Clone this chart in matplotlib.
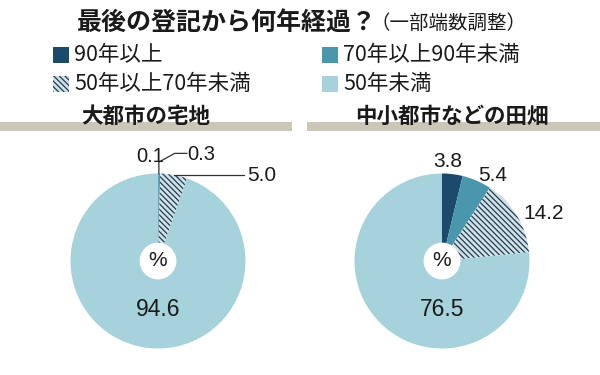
import matplotlib
matplotlib.use("Agg")
import matplotlib.pyplot as plt
from matplotlib.patches import Rectangle, Circle

plt.rcParams['font.family'] = ['Noto Sans CJK JP', 'DejaVu Sans']
plt.rcParams['hatch.linewidth'] = 0.9

# data
title = "最後の登記から何年経過？"
subtitle = "（一部端数調整）"
categories = ["90年以上", "70年以上90年未満", "50年以上70年未満", "50年未満"]
panel_titles = ["大都市の宅地", "中小都市などの田畑"]
city_values = [0.1, 0.3, 5.0, 94.6]
rural_values = [3.8, 5.4, 14.2, 76.5]

# style
colors = ['#1b4a6c', '#4a97ad', '#cde2e9', '#a5d2db']
hatches = [None, None, '\\\\\\\\\\\\', None]
hatch_color = '#2a3b4c'
band_color = '#cbc6b8'
num_font = ['Liberation Sans Narrow', 'Liberation Sans', 'DejaVu Sans']
txt = '#1a1a1a'

W, H = 600, 375


def fx(px):
    return px / W


def fy(py):
    return 1 - py / H


fig = plt.figure(figsize=(6, 3.75), dpi=100)
fig.patch.set_facecolor('white')

# title
fig.text(fx(377), fy(23), title, ha='right', va='center',
         fontsize=18, fontweight='bold', color=txt)
fig.text(fx(370), fy(23), subtitle, ha='left', va='center',
         fontsize=14, color=txt)

# legend
leg_pos = [(53, 55), (322, 55), (53, 84), (322, 84)]
for (lx, ly), cat, col, hat in zip(leg_pos, categories, colors, hatches):
    sq = Rectangle((fx(lx), fy(ly + 8)), 16 / W, 16 / H,
                   transform=fig.transFigure, facecolor=col,
                   edgecolor=hatch_color if hat else col,
                   linewidth=0, hatch=hat)
    fig.add_artist(sq)
    fig.text(fx(lx + 21), fy(ly), cat, ha='left', va='center',
             fontsize=15.5, color=txt)

# section headers with gray band
for (x0, x1), cx, name in zip([(0, 292), (307, 600)], [146, 452], panel_titles):
    fig.add_artist(Rectangle((fx(x0), fy(131)), (x1 - x0) / W, 9 / H,
                             transform=fig.transFigure, facecolor=band_color,
                             edgecolor='none'))
    fig.text(fx(cx), fy(116), name, ha='center', va='center',
             fontsize=15.5, fontweight='bold', color=txt)


def draw_pie(cx, cy, r, values):
    ax = fig.add_axes([fx(cx - r), fy(cy + r), 2 * r / W, 2 * r / H])
    wedges, _ = ax.pie(values, colors=colors, startangle=90,
                       counterclock=False, radius=1,
                       wedgeprops=dict(linewidth=0))
    for w, hat in zip(wedges, hatches):
        if hat:
            w.set_hatch(hat)
            w.set_edgecolor(hatch_color)
            w.set_linewidth(0)
    ax.add_patch(Circle((0, 0), 0.21, facecolor='white', edgecolor='none'))
    ax.text(0, 0, "%", ha='center', va='center', fontsize=15,
            family=num_font, color=txt)
    ax.text(0, -0.56, f"{values[-1]:.1f}", ha='center', va='center',
            fontsize=16.5, family=num_font, color=txt)
    ax.set_xlim(-1, 1)
    ax.set_ylim(-1, 1)
    ax.axis('off')
    return ax, wedges


# left pie
axl, wl = draw_pie(158, 261, 87.5, city_values)
lc = '#333333'
axl.plot([0.01, 0.01, 0.19, 0.33], [1.0, 1.13, 1.23, 1.23],
         color=lc, lw=0.9, clip_on=False)
axl.text(0.07, 1.13, f"{city_values[0]:.1f}", ha='right', va='baseline',
         fontsize=14.5, family=num_font, color=txt)
axl.text(0.34, 1.22, f"{city_values[1]:.1f}", ha='left', va='center',
         fontsize=14.5, family=num_font, color=txt)
axl.plot([0.18, 0.98], [0.985, 0.985], color=lc, lw=0.9, clip_on=False)
axl.text(1.02, 0.975, f"{city_values[2]:.1f}", ha='left', va='center',
         fontsize=15, family=num_font, color=txt)

# right pie
axr, wr = draw_pie(442, 261, 87.5, rural_values)
right_label_pos = [(0.06, 1.14), (0.58, 0.98), (1.16, 0.54)]
for (tx, ty), v in zip(right_label_pos, rural_values[:3]):
    axr.text(tx, ty, f"{v:.1f}", ha='center', va='center',
             fontsize=15, family=num_font, color=txt)

fig.savefig("out.png", dpi=100, facecolor='white')
